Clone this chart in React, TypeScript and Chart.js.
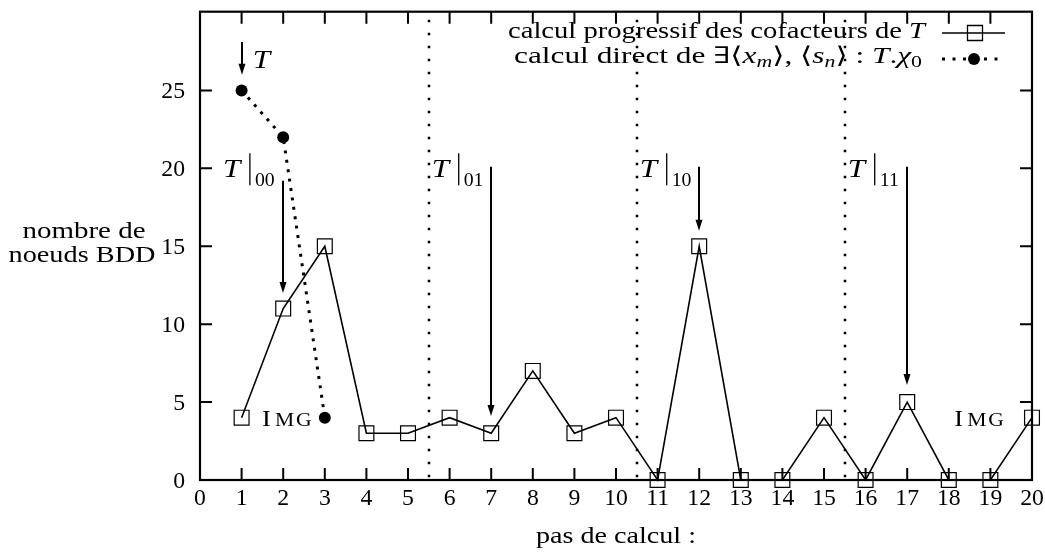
import React, { useEffect, useRef } from 'react';
import { Chart, registerables } from 'chart.js';
Chart.register(...registerables);

// ---- data ----
const steps = [1, 2, 3, 4, 5, 6, 7, 8, 9, 10, 11, 12, 13, 14, 15, 16, 17, 18, 19, 20];
const progressive = [4, 11, 15, 3, 3, 4, 3, 7, 3, 4, 0, 15, 0, 0, 4, 0, 5, 0, 0, 4];
const directSteps = [1, 2, 3];
const direct = [25, 22, 4];
const xTicks = [0, 1, 2, 3, 4, 5, 6, 7, 8, 9, 10, 11, 12, 13, 14, 15, 16, 17, 18, 19, 20];
const yTicks = [0, 5, 10, 15, 20, 25];
const separators = [5.5, 10.5, 15.5];
const arrowX = [1, 2, 7, 12, 17];
const arrowFrom = [28.1, 19.2, 20.1, 20.1, 20.1];
const arrowTo = [26, 12, 4.1, 16, 6.1];
const cofactorSubs = ['00', '01', '10', '11'];
const cofactorLabelX = [0.55, 5.57, 10.57, 15.57];
const cofactorLabelY = 20;
const tLabelX = 1.27;
const tLabelY = 27;
const imgLabelX = [1.49, 18.13];
const imgLabelY = 4;
const legendLabels = ['calcul progressif des cofacteurs de ', 'calcul direct de '];
const xTitle = 'pas de calcul :';
const yTitle = ['nombre de', 'noeuds BDD'];

const SERIF = '"Liberation Serif", "DejaVu Serif", serif';
const f = (size: number, italic = false) => `${italic ? 'italic ' : ''}${size}px ${SERIF}`;

type Run = { t: string; font: string; dy?: number };

function runsWidth(ctx: CanvasRenderingContext2D, runs: Run[]) {
  let total = 0;
  for (const r of runs) {
    ctx.font = r.font;
    total += ctx.measureText(r.t).width;
  }
  return total;
}

// draws runs; if target > 0 stretches horizontally to that width, else uses sx
function drawRuns(
  ctx: CanvasRenderingContext2D,
  runs: Run[],
  x: number,
  y: number,
  align: 'left' | 'right' | 'center',
  sx = 1,
  target = 0
) {
  const raw = runsWidth(ctx, runs);
  const s = target > 0 ? target / raw : sx;
  const total = raw * s;
  const start = align === 'left' ? x : align === 'right' ? x - total : x - total / 2;
  ctx.save();
  ctx.translate(start, y);
  ctx.scale(s, 1);
  ctx.textAlign = 'left';
  ctx.textBaseline = 'alphabetic';
  let cx = 0;
  for (const r of runs) {
    ctx.font = r.font;
    ctx.fillText(r.t, cx, r.dy || 0);
    cx += ctx.measureText(r.t).width;
  }
  ctx.restore();
}

function arrow(ctx: CanvasRenderingContext2D, x: number, y1: number, y2: number) {
  ctx.save();
  ctx.strokeStyle = '#000';
  ctx.fillStyle = '#000';
  ctx.lineWidth = 2;
  ctx.beginPath();
  ctx.moveTo(x, y1);
  ctx.lineTo(x, y2 - 6);
  ctx.stroke();
  ctx.beginPath();
  ctx.moveTo(x - 3.5, y2 - 11);
  ctx.lineTo(x + 3.5, y2 - 11);
  ctx.lineTo(x, y2);
  ctx.closePath();
  ctx.fill();
  ctx.restore();
}

const decorPlugin = {
  id: 'decor',
  beforeDatasetsDraw(chart: any) {
    const { ctx, chartArea: a, scales } = chart;
    const xs = scales.x;
    const ys = scales.y;
    ctx.save();
    // separators
    ctx.strokeStyle = '#000';
    ctx.lineWidth = 2.5;
    ctx.setLineDash([2.5, 10.5]);
    for (const s of separators) {
      const px = Math.round(xs.getPixelForValue(s));
      ctx.beginPath();
      ctx.moveTo(px, a.top + 8);
      ctx.lineTo(px, a.bottom);
      ctx.stroke();
    }
    ctx.setLineDash([]);
    // frame
    ctx.lineWidth = 2.2;
    ctx.strokeRect(a.left, a.top, a.right - a.left, a.bottom - a.top);
    // ticks
    ctx.lineWidth = 2;
    const tl = 12;
    for (const t of xTicks) {
      const px = xs.getPixelForValue(t);
      ctx.beginPath();
      ctx.moveTo(px, a.bottom);
      ctx.lineTo(px, a.bottom - tl);
      ctx.moveTo(px, a.top);
      ctx.lineTo(px, a.top + tl);
      ctx.stroke();
    }
    for (const t of yTicks) {
      const py = ys.getPixelForValue(t);
      ctx.beginPath();
      ctx.moveTo(a.left, py);
      ctx.lineTo(a.left + tl, py);
      ctx.moveTo(a.right, py);
      ctx.lineTo(a.right - tl, py);
      ctx.stroke();
    }
    // tick labels
    ctx.fillStyle = '#000';
    for (const t of xTicks) {
      drawRuns(ctx, [{ t: String(t), font: f(23) }], xs.getPixelForValue(t), a.bottom + 25, 'center', 1.03);
    }
    for (const t of yTicks) {
      drawRuns(ctx, [{ t: String(t), font: f(23) }], a.left - 15, ys.getPixelForValue(t) + 8, 'right', 1.03);
    }
    // titles
    drawRuns(ctx, [{ t: xTitle, font: f(23) }], (a.left + a.right) / 2, a.bottom + 63, 'center', 1, 160);
    drawRuns(ctx, [{ t: yTitle[0], font: f(23) }], 84, 238, 'center', 1, 123);
    drawRuns(ctx, [{ t: yTitle[1], font: f(23) }], 82, 262, 'center', 1, 147);
    ctx.restore();
  },
  afterDatasetsDraw(chart: any) {
    const { ctx, scales } = chart;
    const xs = scales.x;
    const ys = scales.y;
    ctx.save();
    ctx.fillStyle = '#000';
    // arrows
    arrowX.forEach((x, i) => {
      arrow(ctx, Math.round(xs.getPixelForValue(x)), ys.getPixelForValue(arrowFrom[i]), ys.getPixelForValue(arrowTo[i]));
    });
    // T label
    drawRuns(ctx, [{ t: 'T', font: f(26, true) }], xs.getPixelForValue(tLabelX), ys.getPixelForValue(tLabelY) + 9, 'left', 1.2);
    // cofactor labels
    cofactorSubs.forEach((s, i) => {
      const lx = xs.getPixelForValue(cofactorLabelX[i]);
      const cy = ys.getPixelForValue(cofactorLabelY);
      drawRuns(ctx, [{ t: 'T', font: f(26, true) }], lx, cy + 9, 'left', 1.2);
      ctx.strokeStyle = '#000';
      ctx.lineWidth = 1.3;
      ctx.beginPath();
      ctx.moveTo(lx + 27, cy - 15);
      ctx.lineTo(lx + 27, cy + 17);
      ctx.stroke();
      drawRuns(ctx, [{ t: s, font: f(18) }], lx + 32, cy + 18, 'left', 1.1);
    });
    // Img labels
    imgLabelX.forEach((x) => {
      const lx = xs.getPixelForValue(x);
      const by = ys.getPixelForValue(imgLabelY) + 8;
      drawRuns(ctx, [{ t: 'I', font: f(24) }], lx, by, 'left', 1.1);
      drawRuns(ctx, [{ t: 'M', font: f(18) }], lx + 13, by, 'left', 1.2);
      drawRuns(ctx, [{ t: 'G', font: f(18) }], lx + 34, by, 'left', 1.2);
    });
    // legend
    const rx = 925;
    const y1 = 38;
    const y2 = 63;
    drawRuns(ctx, [{ t: legendLabels[0], font: f(23) }, { t: 'T', font: f(23, true) }], rx, y1, 'right', 1, 417);
    drawRuns(
      ctx,
      [
        { t: legendLabels[1] + '\u2203\u27E8', font: f(23) },
        { t: 'x', font: f(23, true) },
        { t: 'm', font: f(16, true), dy: 4 },
        { t: '\u27E9, \u27E8', font: f(23) },
        { t: 's', font: f(23, true) },
        { t: 'n', font: f(16, true), dy: 4 },
        { t: '\u27E9 : ', font: f(23) },
        { t: 'T', font: f(23, true) },
        { t: '.', font: f(23) },
        { t: '\u03C7', font: f(23, true) },
        { t: '0', font: f(16), dy: 4 },
      ],
      rx - 3,
      y2,
      'right',
      1,
      408
    );
    // legend samples
    const sx1 = 942;
    const sx2 = 1005;
    const sc = 975;
    const ly1 = 33;
    const ly2 = 59;
    ctx.strokeStyle = '#000';
    ctx.lineWidth = 1.6;
    ctx.beginPath();
    ctx.moveTo(sx1, ly1);
    ctx.lineTo(sx2, ly1);
    ctx.stroke();
    ctx.lineWidth = 1.3;
    ctx.beginPath();
    ctx.rect(sc - 7.5, ly1 - 7.5, 15, 15);
    ctx.stroke();
    ctx.lineWidth = 3;
    ctx.setLineDash([3, 7.5]);
    ctx.beginPath();
    ctx.moveTo(sx1, ly2);
    ctx.lineTo(sx2, ly2);
    ctx.stroke();
    ctx.setLineDash([]);
    ctx.fillStyle = '#000';
    ctx.beginPath();
    ctx.arc(sc - 1, ly2, 6, 0, Math.PI * 2);
    ctx.fill();
    ctx.restore();
  },
};

export default function App() {
  const ref = useRef<HTMLCanvasElement | null>(null);
  useEffect(() => {
    document.body.style.margin = '0';
    const canvas = ref.current;
    if (!canvas) return;
    const chart = new Chart(canvas, {
      type: 'line',
      data: {
        datasets: [
          {
            label: 'calcul progressif des cofacteurs de T',
            data: steps.map((x, i) => ({ x, y: progressive[i] })),
            borderColor: '#000',
            borderWidth: 1.6,
            pointStyle: 'rect',
            pointRadius: 10.5,
            pointBorderWidth: 1.2,
            pointBorderColor: '#000',
            pointBackgroundColor: 'rgba(0,0,0,0)',
            tension: 0,
            clip: false,
          } as any,
          {
            label: 'calcul direct',
            data: directSteps.map((x, i) => ({ x, y: direct[i] })),
            borderColor: '#000',
            borderWidth: 3,
            borderDash: [3, 6.5],
            pointStyle: 'circle',
            pointRadius: 6,
            pointBorderWidth: 0,
            pointBackgroundColor: '#000',
            tension: 0,
            clip: false,
          } as any,
        ],
      },
      options: {
        responsive: false,
        animation: false,
        events: [],
        layout: { padding: { left: 200, right: 13, top: 6, bottom: 78 } },
        plugins: { legend: { display: false }, tooltip: { enabled: false } },
        scales: {
          x: { type: 'linear', min: 0, max: 20, display: false },
          y: { type: 'linear', min: 0, max: 30.05, display: false },
        },
      },
      plugins: [decorPlugin],
    });
    return () => chart.destroy();
  }, []);
  return <canvas ref={ref} width={1045} height={558} style={{ display: 'block' }} />;
}
